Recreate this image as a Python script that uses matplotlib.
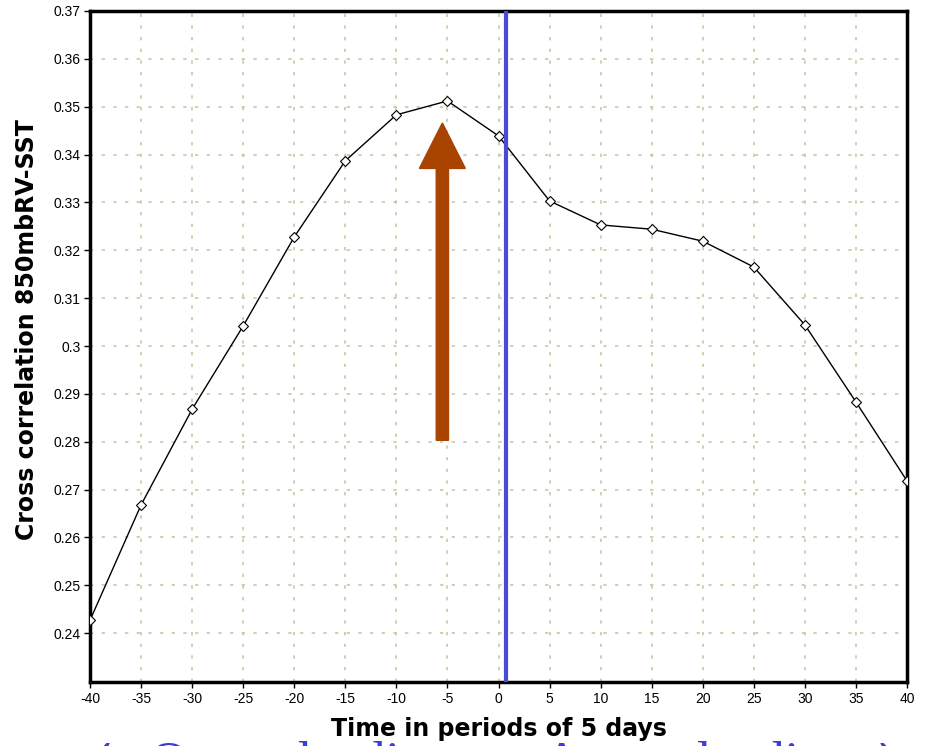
import numpy as np
import matplotlib
matplotlib.use('Agg')
import matplotlib.pyplot as plt

# lag (periods of 5 days) and cross correlation values
lags = [-40, -35, -30, -25, -20, -15, -10, -5, 0, 5, 10, 15, 20, 25, 30, 35, 40]
corr = [0.2427, 0.2668, 0.2868, 0.3042, 0.3228, 0.3387, 0.3483, 0.3512, 0.3439,
        0.3303, 0.3253, 0.3244, 0.3219, 0.3165, 0.3044, 0.2883, 0.2718]

x_ticks = list(range(-40, 41, 5))
y_ticks = [0.24, 0.25, 0.26, 0.27, 0.28, 0.29, 0.30, 0.31, 0.32, 0.33, 0.34, 0.35, 0.36, 0.37]
y_tick_labels = ['0.24', '0.25', '0.26', '0.27', '0.28', '0.29', '0.3', '0.31', '0.32',
                 '0.33', '0.34', '0.35', '0.36', '0.37']

zero_line = 0.75      # blue marker line
arrow_x = -5.5
arrow_y0, arrow_y1 = 0.2803, 0.3466

tick_font = ['Liberation Sans', 'DejaVu Sans']

fig = plt.figure(figsize=(9.3, 7.46), dpi=100)
ax = fig.add_axes([0.0968, 0.0858, 0.8785, 0.8995])

ax.plot(lags, corr, color='black', lw=1.0, marker='D', markersize=5,
        markerfacecolor='white', markeredgecolor='black', markeredgewidth=0.8, zorder=4)

ax.axvline(zero_line, color='#4a4ad8', lw=3, zorder=5)

ax.arrow(arrow_x, arrow_y0, 0, arrow_y1 - arrow_y0, width=1.2, head_width=4.5,
         head_length=0.0095, length_includes_head=True, color='#a84300', zorder=6)

ax.set_xlim(-40, 40)
ax.set_ylim(0.2298, 0.37)
ax.set_xticks(x_ticks)
ax.set_xticklabels([str(t) for t in x_ticks], family=tick_font, fontsize=10)
ax.set_yticks(y_ticks)
ax.set_yticklabels(y_tick_labels, family=tick_font, fontsize=10)
ax.tick_params(direction='out', length=4, width=1, pad=3)

ax.grid(True, color='#c8c8a4', lw=1.2, linestyle=(0, (2, 5)))
for s in ax.spines.values():
    s.set_linewidth(2.5)
    s.set_color('black')

ax.set_xlabel('Time in periods of 5 days', fontsize=17, fontweight='bold', labelpad=8)
ax.set_ylabel('Cross correlation 850mbRV-SST', fontsize=17, fontweight='bold')
ax.yaxis.set_label_coords(-0.062, 0.525)

# blue caption cut off at the bottom edge
serif = ['Liberation Serif', 'DejaVu Serif']
cap = dict(color='#3c3cd8', fontsize=38, family=serif, va='baseline',
           transform=fig.transFigure)
fig.text(0.161, -0.043, 'Ocean leading', **cap)
fig.text(0.584, -0.043, 'Atmos leading', **cap)
chev = dict(color='#3c3cd8', fontsize=50, family=serif, fontweight='bold',
            va='baseline', transform=fig.transFigure)
fig.text(0.098, -0.036, '\u2039', **chev)
fig.text(0.942, -0.036, '\u203a', **chev)

fig.savefig('out.png', dpi=100)
